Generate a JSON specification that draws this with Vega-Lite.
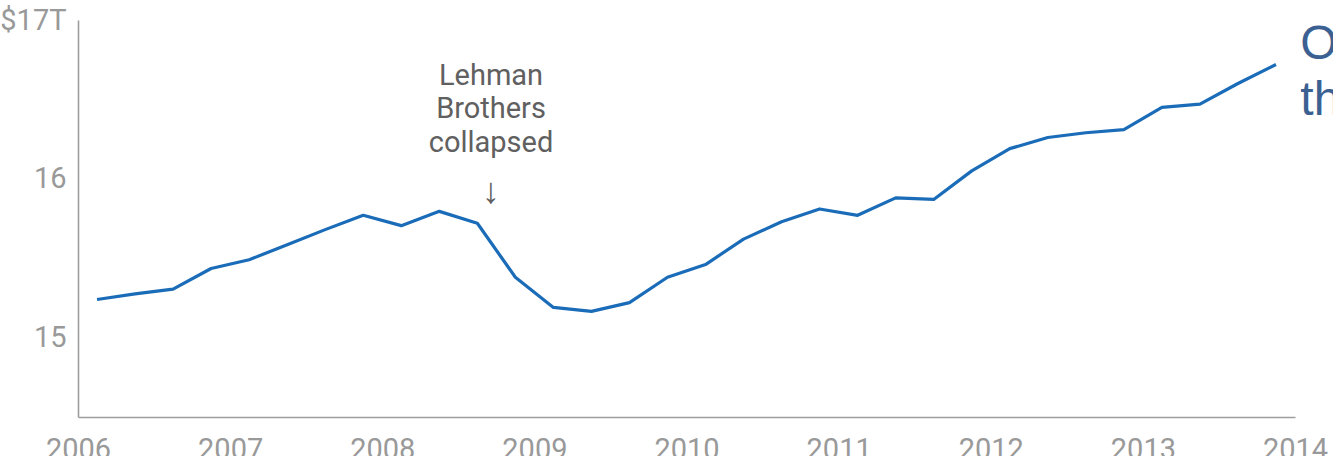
{
  "$schema": "https://vega.github.io/schema/vega-lite/v6.json",
  "autosize": "none",
  "width": 1217,
  "height": 397,
  "padding": {"left": 78, "top": 20, "right": 38, "bottom": 39},
  "background": "white",
  "config": {"view": {"stroke": null}, "font": "Roboto"},
  "datasets": {
    "gdp": [
      {"t": 2006.125, "v": 15.24}, {"t": 2006.375, "v": 15.275}, {"t": 2006.625, "v": 15.305}, {"t": 2006.875, "v": 15.435},
      {"t": 2007.125, "v": 15.49}, {"t": 2007.375, "v": 15.585}, {"t": 2007.625, "v": 15.68}, {"t": 2007.875, "v": 15.77},
      {"t": 2008.125, "v": 15.705}, {"t": 2008.375, "v": 15.795}, {"t": 2008.625, "v": 15.72}, {"t": 2008.875, "v": 15.38},
      {"t": 2009.125, "v": 15.19}, {"t": 2009.375, "v": 15.165}, {"t": 2009.625, "v": 15.22}, {"t": 2009.875, "v": 15.38},
      {"t": 2010.125, "v": 15.46}, {"t": 2010.375, "v": 15.62}, {"t": 2010.625, "v": 15.73}, {"t": 2010.875, "v": 15.81},
      {"t": 2011.125, "v": 15.77}, {"t": 2011.375, "v": 15.88}, {"t": 2011.625, "v": 15.87}, {"t": 2011.875, "v": 16.05},
      {"t": 2012.125, "v": 16.19}, {"t": 2012.375, "v": 16.26}, {"t": 2012.625, "v": 16.29}, {"t": 2012.875, "v": 16.31},
      {"t": 2013.125, "v": 16.45}, {"t": 2013.375, "v": 16.47}, {"t": 2013.625, "v": 16.6}, {"t": 2013.875, "v": 16.72}
    ],
    "notes": [
      {"t": 2008.715, "v": 16.593, "label": "Lehman\nBrothers\ncollapsed"}
    ],
    "arrow": [
      {"t": 2008.715, "v": 15.85, "label": "↓"}
    ],
    "side": [
      {"t": 2014.035, "v": 16.755, "label": "Output\nthe"}
    ]
  },
  "layer": [
    {
      "data": {"name": "gdp"},
      "mark": {"type": "line", "color": "#1a6cb8", "strokeWidth": 3.2, "strokeJoin": "round", "clip": false},
      "encoding": {
        "x": {
          "field": "t", "type": "quantitative",
          "scale": {"domain": [2006, 2014], "nice": false, "zero": false},
          "axis": {
            "title": null, "values": [2006, 2007, 2008, 2009, 2010, 2011, 2012, 2013, 2014],
            "format": "d", "grid": false, "ticks": false,
            "domainColor": "#9e9e9e", "domainWidth": 1.6,
            "labelColor": "#999999", "labelFontSize": 29, "labelFont": "Roboto",
            "labelPadding": 18, "labelFlush": false, "labelOverlap": false
          }
        },
        "y": {
          "field": "v", "type": "quantitative",
          "scale": {"domain": [14.5, 17], "nice": false, "zero": false},
          "axis": {
            "title": null, "values": [15, 16, 17], "format": "d", "grid": false, "ticks": false,
            "labelExpr": "datum.value == 17 ? '$17T' : datum.label",
            "domainColor": "#9e9e9e", "domainWidth": 1.6,
            "labelColor": "#999999", "labelFontSize": 29, "labelFont": "Roboto",
            "labelPadding": 12, "labelFlush": false, "labelOverlap": false
          }
        }
      }
    },
    {
      "data": {"name": "notes"},
      "mark": {"type": "text", "align": "center", "baseline": "alphabetic", "fontSize": 29, "lineHeight": 33.5, "font": "Roboto", "color": "#606060", "lineBreak": "\n"},
      "encoding": {
        "x": {"field": "t", "type": "quantitative"},
        "y": {"field": "v", "type": "quantitative"},
        "text": {"field": "label"}
      }
    },
    {
      "data": {"name": "arrow"},
      "mark": {"type": "text", "align": "center", "baseline": "alphabetic", "fontSize": 36, "font": "Liberation Sans", "color": "#606060"},
      "encoding": {
        "x": {"field": "t", "type": "quantitative"},
        "y": {"field": "v", "type": "quantitative"},
        "text": {"field": "label"}
      }
    },
    {
      "data": {"name": "side"},
      "mark": {"type": "text", "align": "left", "baseline": "alphabetic", "fontSize": 48, "lineHeight": 56, "font": "Liberation Sans", "color": "#3b6193", "lineBreak": "\n"},
      "encoding": {
        "x": {"field": "t", "type": "quantitative"},
        "y": {"field": "v", "type": "quantitative"},
        "text": {"field": "label"}
      }
    }
  ]
}
